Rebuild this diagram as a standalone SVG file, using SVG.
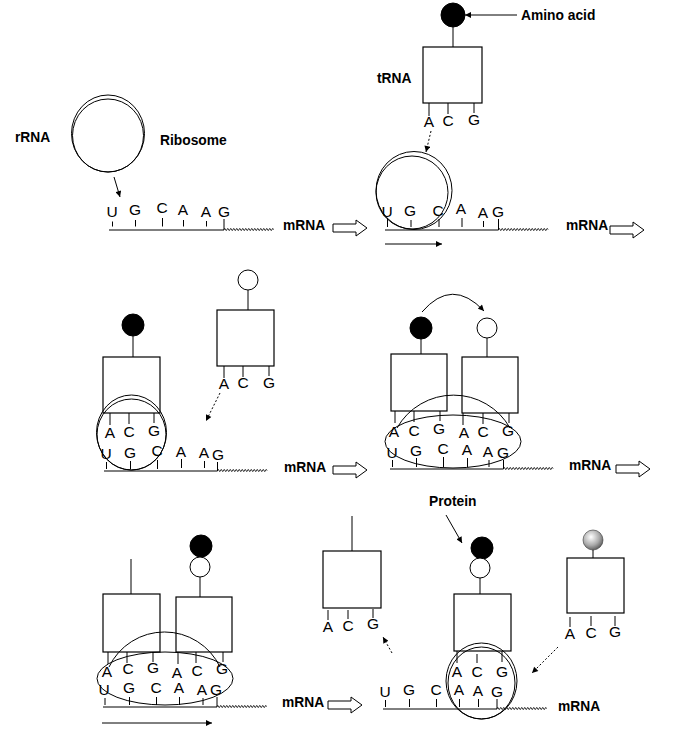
<svg xmlns="http://www.w3.org/2000/svg" xmlns:xlink="http://www.w3.org/1999/xlink" width="674" height="729" viewBox="0 0 674 729">
<style>
.ln{stroke:#000;stroke-width:1;fill:none}
.bx{stroke:#000;stroke-width:1.2;fill:#fff}
.rb{stroke:#000;stroke-width:1;fill:none}
.blk{fill:#000;stroke:#000}
.opn{fill:#fff;stroke:#000;stroke-width:1}
.dot{stroke:#000;stroke-width:1;fill:none;stroke-dasharray:2,2}
.nt{font-family:"Liberation Sans",Arial,sans-serif;font-size:15.5px;text-anchor:middle;fill:#000}
.lbl{font-family:"Liberation Sans",Arial,sans-serif;font-size:13.8px;font-weight:bold;fill:#000}
.wv{stroke:#000;stroke-width:1;fill:none}
.ha{fill:#fff;stroke:#000;stroke-width:1}
</style>
<defs>
<marker id="ah" viewBox="0 0 10 10" refX="10" refY="5" markerUnits="userSpaceOnUse" markerWidth="7" markerHeight="6" orient="auto">
<path d="M0,0 L10,5 L0,10 Z" fill="#000"/>
</marker>
<path id="wave" class="wv" d="M0,0 q0.75,-2 1.5,0 t1.5,0 t1.5,0 t1.5,0 t1.5,0 t1.5,0 t1.5,0 t1.5,0 t1.5,0 t1.5,0 t1.5,0 t1.5,0 t1.5,0 t1.5,0 t1.5,0 t1.5,0 t1.5,0 t1.5,0 t1.5,0 t1.5,0 t1.5,0 t1.5,0 t1.5,0 t1.5,0 t1.5,0 t1.5,0 t1.5,0 t1.5,0 t1.5,0 t1.5,0 t1.5,0 t1.5,0 t1.5,0"/>
<path id="harrow" class="ha" d="M0,-4 H23 V-8 L34,0 L23,8 V4 H0 Z"/>
<radialGradient id="gray" cx="0.4" cy="0.35" r="0.7">
<stop offset="0" stop-color="#fff"/>
<stop offset="0.6" stop-color="#aaa"/>
<stop offset="1" stop-color="#555"/>
</radialGradient>
</defs>

<!-- Panel 1 -->
<g id="p1-ribosome">
<ellipse class="rb" cx="108" cy="133.5" rx="36.5" ry="38.5"/>
<ellipse class="rb" cx="108" cy="135.5" rx="35.5" ry="36.5"/>
</g>
<g id="p1-labels">
<text class="lbl" x="15" y="142">rRNA</text>
<text class="lbl" x="160" y="145">Ribosome</text>
</g>
<g id="p1-mrna">
<text class="nt" x="112" y="217">U</text>
<text class="nt" x="135" y="215">G</text>
<text class="nt" x="162" y="213">C</text>
<text class="nt" x="183" y="215">A</text>
<text class="nt" x="206" y="217">A</text>
<text class="nt" x="224" y="217">G</text>
<path class="ln" d="M112.5,221.5V226.5 M135.5,220V226.5 M162.5,218V226.5 M183.5,220V226.5 M206.5,221V226.5 M224,219V230 M109,230H224"/>
<use href="#wave" x="224" y="229.5"/>
<text class="lbl" x="283" y="230">mRNA</text>
</g>

<!-- Panel 2 -->
<g id="p2-trna">
<circle class="blk" cx="453" cy="15" r="12"/>
<path class="ln" d="M453,27V47"/>
<rect class="bx" x="423" y="47" width="59" height="56"/>
<path class="ln" d="M429,103V116 M448,103V114 M474,103V113"/>
<text class="nt" x="429" y="127">A</text>
<text class="nt" x="448" y="126">C</text>
<text class="nt" x="474" y="125">G</text>
<text class="lbl" x="377" y="83">tRNA</text>
<text class="lbl" x="521" y="20">Amino acid</text>
</g>
<g id="p2-ribosome">
<ellipse class="rb" cx="414" cy="190.5" rx="38" ry="39"/>
<ellipse class="rb" cx="412" cy="192.5" rx="36" ry="36.5"/>
</g>
<g id="p2-mrna">
<text class="nt" x="387" y="217">U</text>
<text class="nt" x="410" y="216">G</text>
<text class="nt" x="438" y="216">C</text>
<text class="nt" x="461" y="214">A</text>
<text class="nt" x="483" y="218">A</text>
<text class="nt" x="498" y="217">G</text>
<path class="ln" d="M387.5,218V227 M411,220V227 M439,219V227 M462,218V227 M483.5,221V227 M498.5,219V230 M385,230H498.5"/>
<use href="#wave" x="498.5" y="229.5"/>
<text class="lbl" x="566" y="230">mRNA</text>
</g>

<!-- Panel 3 -->
<g id="p3-trna1">
<circle class="blk" cx="133" cy="325" r="11"/>
<path class="ln" d="M133,336V357"/>
<rect class="bx" x="103" y="357" width="57" height="56"/>
</g>
<g id="p3-ribosome">
<ellipse class="rb" cx="131.5" cy="432.5" rx="35" ry="37.5"/>
<ellipse class="rb" cx="131.5" cy="434.5" rx="34.5" ry="35.5"/>
</g>
<g id="p3-anticodon">
<path class="ln" d="M110,413V425 M129,413V424 M154,413V423"/>
<text class="nt" x="110" y="438">A</text>
<text class="nt" x="129" y="437">C</text>
<text class="nt" x="154" y="436">G</text>
</g>
<g id="p3-trna2">
<circle class="opn" cx="248" cy="280" r="10"/>
<path class="ln" d="M248,290V310"/>
<rect class="bx" x="217" y="310" width="57" height="56"/>
<path class="ln" d="M224,366V378 M243,366V377 M269,366V376"/>
<text class="nt" x="224" y="389">A</text>
<text class="nt" x="243" y="388">C</text>
<text class="nt" x="269" y="388">G</text>
</g>
<g id="p3-mrna">
<text class="nt" x="106" y="459">U</text>
<text class="nt" x="130" y="458">G</text>
<text class="nt" x="157" y="456">C</text>
<text class="nt" x="181" y="457">A</text>
<text class="nt" x="204" y="458">A</text>
<text class="nt" x="218" y="460">G</text>
<path class="ln" d="M106.5,462V469 M130.5,461V469 M157.5,460V469 M181.5,459V468 M204.5,461V468 M217.5,462V471 M104,471H217.5"/>
<use href="#wave" x="217.5" y="470.5"/>
<text class="lbl" x="284" y="472">mRNA</text>
</g>

<!-- Panel 4 -->
<g id="p4-trna1">
<circle class="blk" cx="421" cy="328" r="11"/>
<path class="ln" d="M421,339V354"/>
<rect class="bx" x="391" y="354" width="56" height="57"/>
</g>
<g id="p4-trna2">
<circle class="opn" cx="487" cy="328" r="10"/>
<path class="ln" d="M487,338V357"/>
<rect class="bx" x="462" y="357" width="56" height="56"/>
</g>
<g id="p4-ribosome">
<path class="rb" d="M397,428 A65,65 0 0 1 510,428"/>
<ellipse class="rb" cx="453" cy="441.5" rx="68" ry="26.5"/>
</g>
<g id="p4-anticodons">
<path class="ln" d="M395,411V423 M414,411V422 M440,411V421 M463,413V425 M483,413V424 M509,413V423"/>
<text class="nt" x="394" y="437">A</text>
<text class="nt" x="414" y="436">C</text>
<text class="nt" x="439" y="434">G</text>
<text class="nt" x="464" y="438">A</text>
<text class="nt" x="483" y="437">C</text>
<text class="nt" x="508" y="436">G</text>
</g>
<g id="p4-mrna">
<text class="nt" x="392" y="458">U</text>
<text class="nt" x="416" y="456">G</text>
<text class="nt" x="443" y="454">C</text>
<text class="nt" x="467" y="455">A</text>
<text class="nt" x="488" y="457">A</text>
<text class="nt" x="503" y="458">G</text>
<path class="ln" d="M392.5,460V467 M416.5,458V467 M443.5,457V467 M467.5,458V467 M489,460V467 M503.5,460V469 M390,469H503.5"/>
<use href="#wave" x="503.5" y="468.5"/>
<text class="lbl" x="569" y="470">mRNA</text>
</g>

<!-- Panel 5 -->
<g id="p5-trna1">
<path class="ln" d="M131,559V594"/>
<rect class="bx" x="103" y="594" width="57" height="58"/>
</g>
<g id="p5-trna2">
<circle class="blk" cx="201" cy="546" r="11"/>
<circle class="opn" cx="200" cy="567" r="10"/>
<path class="ln" d="M200,577V597"/>
<rect class="bx" x="176" y="597" width="56" height="55"/>
</g>
<g id="p5-ribosome">
<path class="rb" d="M109,667 A61.5,61.5 0 0 1 220,667"/>
<ellipse class="rb" cx="165" cy="678.5" rx="68" ry="26.5"/>
</g>
<g id="p5-anticodons">
<path class="ln" d="M108,652V664 M127,652V663 M153,652V662 M178,652V664 M196,652V663 M223,652V662"/>
<text class="nt" x="107" y="677">A</text>
<text class="nt" x="128" y="674">C</text>
<text class="nt" x="153" y="673">G</text>
<text class="nt" x="177" y="678">A</text>
<text class="nt" x="197" y="676">C</text>
<text class="nt" x="222" y="674">G</text>
</g>
<g id="p5-mrna">
<text class="nt" x="104" y="695">U</text>
<text class="nt" x="129" y="693">G</text>
<text class="nt" x="156" y="693">C</text>
<text class="nt" x="179" y="693">A</text>
<text class="nt" x="202" y="695">A</text>
<text class="nt" x="216" y="695">G</text>
<path class="ln" d="M105,698V705 M129.5,697V705 M156.5,697V705 M179.5,697V705 M203,698V705 M217,697V707 M103,707H217"/>
<use href="#wave" x="217" y="706.5"/>
<text class="lbl" x="282" y="707">mRNA</text>
</g>

<!-- Panel 6 -->
<g id="p6-trna-out">
<path class="ln" d="M352,516V551"/>
<rect class="bx" x="323" y="551" width="58" height="57"/>
<path class="ln" d="M328,610V620 M348,610V619 M373,609V618"/>
<text class="nt" x="328" y="632">A</text>
<text class="nt" x="348" y="631">C</text>
<text class="nt" x="373" y="629">G</text>
</g>
<g id="p6-trna-site">
<circle class="blk" cx="482" cy="548" r="11"/>
<circle class="opn" cx="480" cy="568" r="10"/>
<path class="ln" d="M480,578V594"/>
<rect class="bx" x="454" y="594" width="57" height="57"/>
</g>
<g id="p6-ribosome">
<ellipse class="rb" cx="481.5" cy="681" rx="35.5" ry="38"/>
<ellipse class="rb" cx="481.5" cy="683" rx="33.5" ry="36"/>
</g>
<g id="p6-anticodon">
<path class="ln" d="M457,651V663 M477,654V663 M502,651V662"/>
<text class="nt" x="457" y="677">A</text>
<text class="nt" x="477" y="677">C</text>
<text class="nt" x="502" y="677">G</text>
</g>
<g id="p6-trna-in">
<circle cx="593" cy="540" r="10" fill="url(#gray)" stroke="#333" stroke-width="0.6"/>
<path class="ln" d="M593,550V558"/>
<rect class="bx" x="567" y="558" width="57" height="55"/>
<path class="ln" d="M570,617V627 M591,616V626 M615,616V626"/>
<text class="nt" x="570" y="639">A</text>
<text class="nt" x="591" y="638">C</text>
<text class="nt" x="615" y="637">G</text>
</g>
<g id="p6-mrna">
<text class="nt" x="385" y="697">U</text>
<text class="nt" x="409" y="695">G</text>
<text class="nt" x="436" y="695">C</text>
<text class="nt" x="459" y="695">A</text>
<text class="nt" x="478" y="696">A</text>
<text class="nt" x="497" y="697">G</text>
<path class="ln" d="M385.5,700V707 M409.5,699V707 M436.5,699V707 M459.5,699V707 M478.5,699V707 M497,699V709 M383,709H497"/>
<use href="#wave" x="497" y="708.5"/>
<text class="lbl" x="558" y="711">mRNA</text>
<text class="lbl" x="429" y="506">Protein</text>
</g>

<!-- Connectors -->
<g id="connectors">
<use href="#harrow" x="333" y="228"/>
<use href="#harrow" x="610" y="230"/>
<use href="#harrow" x="333" y="470"/>
<use href="#harrow" x="616" y="469"/>
<use href="#harrow" x="328" y="705"/>
<line class="ln" x1="114" y1="177" x2="120" y2="197" marker-end="url(#ah)"/>
<line class="ln" x1="517" y1="15" x2="465" y2="15" marker-end="url(#ah)"/>
<line class="dot" x1="431" y1="131" x2="426" y2="152" marker-end="url(#ah)"/>
<line class="ln" x1="385" y1="244" x2="442" y2="244" marker-end="url(#ah)"/>
<line class="dot" x1="220" y1="393" x2="206" y2="421" marker-end="url(#ah)"/>
<path class="ln" d="M422,312 Q452,277 484,311" marker-end="url(#ah)"/>
<line class="ln" x1="102" y1="723" x2="212" y2="723" marker-end="url(#ah)"/>
<line class="ln" x1="446" y1="515" x2="462" y2="543" marker-end="url(#ah)"/>
<line class="dot" x1="392" y1="653" x2="383" y2="637" marker-end="url(#ah)"/>
<line class="dot" x1="558" y1="647" x2="532" y2="673" marker-end="url(#ah)"/>
</g>
</svg>
